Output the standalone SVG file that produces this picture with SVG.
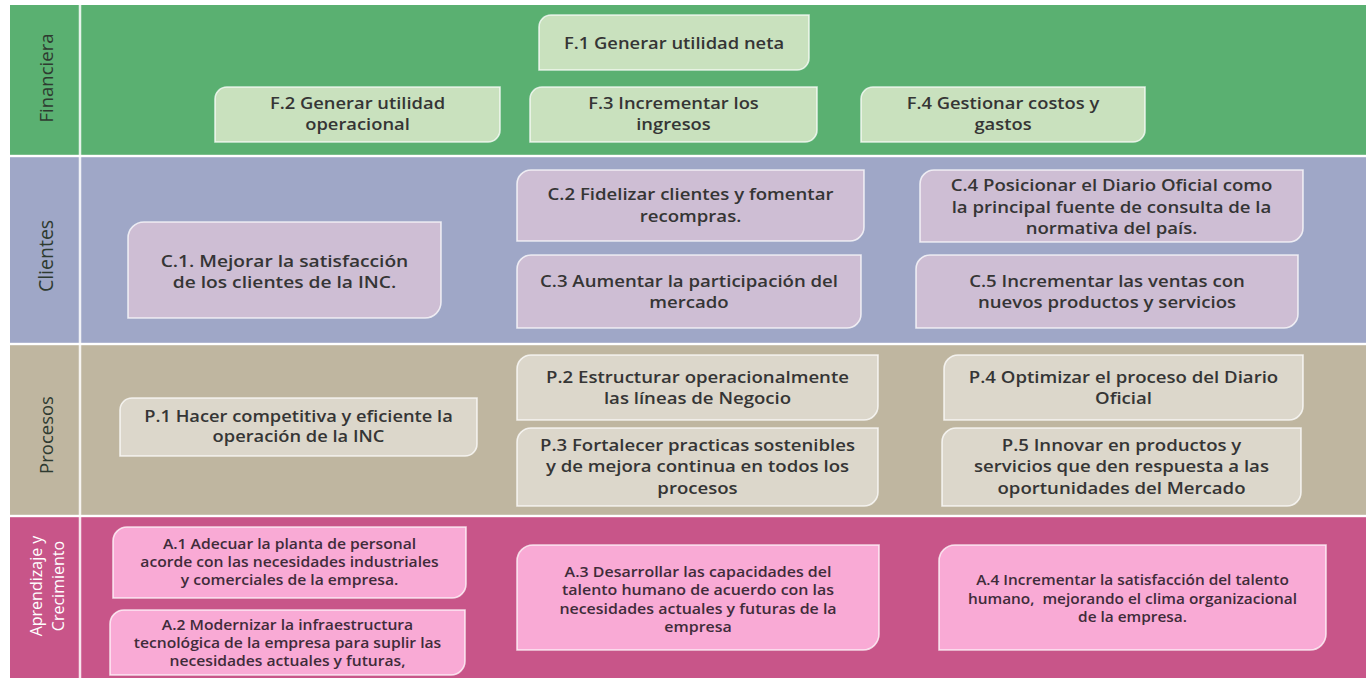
<svg xmlns="http://www.w3.org/2000/svg" width="1370" height="678" viewBox="0 0 1370 678">
<style>
text{font-family:"Open Sans","Noto Sans","DejaVu Sans",sans-serif;fill:#353535;text-anchor:middle;font-weight:600}
.lbl{font-size:18.5px;fill:#2e3a30;font-weight:400}
.lblw{font-size:16px;fill:#ffffff;font-weight:400}
.box{stroke:#ffffff;stroke-opacity:.75;stroke-width:1.6}
.bf{fill:#C9E1BE}
.bc{fill:#CEBED4}
.bp{fill:#DCD7CB}
.ba{fill:#F9AAD5}
.tf{font-size:17px}
.tc{font-size:15.5px}
.tc1{font-size:16px}
.tp{font-size:15.5px}
.ta{font-size:14.5px;fill:#3f2c3a}
.ta2{font-size:14px;fill:#3f2c3a}
</style>
<rect width="1370" height="678" fill="#ffffff"/>
<g id="bands">
<rect x="10" y="5" width="1356" height="150" fill="#5AB071"/>
<rect x="10" y="157" width="1356" height="186" fill="#9FA7C7"/>
<rect x="10" y="345" width="1356" height="170" fill="#BFB6A0"/>
<rect x="10" y="517" width="1356" height="161" fill="#C85589"/>
<line x1="80" y1="5" x2="80" y2="678" stroke="#ffffff" stroke-width="2.5" stroke-opacity=".85"/>
<line x1="10" y1="156" x2="1366" y2="156" stroke="#ffffff" stroke-width="2.5" stroke-opacity=".8"/>
<line x1="10" y1="344" x2="1366" y2="344" stroke="#ffffff" stroke-width="2.5" stroke-opacity=".8"/>
<line x1="10" y1="516" x2="1366" y2="516" stroke="#ffffff" stroke-width="2.5" stroke-opacity=".8"/>
<text class="lbl" transform="translate(53 78) rotate(-90)">Financiera</text>
<text class="lbl" style="font-size:19.5px" transform="translate(53 256) rotate(-90)">Clientes</text>
<text class="lbl" transform="translate(53 435) rotate(-90)">Procesos</text>
<text class="lblw" transform="translate(42 586) rotate(-90)">Aprendizaje y</text>
<text class="lblw" transform="translate(64 586) rotate(-90)">Crecimiento</text>
</g>
<g id="connectors"/>
<g id="F1"><path class="box bf" d="M552 15 H809 V58 A12 12 0 0 1 797 70 H539 V27 A12 12 0 0 1 551 15 Z"/>
<g transform="matrix(1.08 0 0 1 674 0)"><text class="tf" x="0" y="49">F.1 Generar utilidad neta</text></g></g>
<g id="F2"><path class="box bf" d="M227 87 H500 V130 A12 12 0 0 1 488 142 H215 V99 A12 12 0 0 1 227 87 Z"/>
<g transform="matrix(1.08 0 0 1 357.5 0)"><text class="tf" x="0" y="109">F.2 Generar utilidad</text><text class="tf" x="0" y="130">operacional</text></g></g>
<g id="F3"><path class="box bf" d="M542 87 H817 V130 A12 12 0 0 1 805 142 H530 V99 A12 12 0 0 1 542 87 Z"/>
<g transform="matrix(1.08 0 0 1 673.5 0)"><text class="tf" x="0" y="109">F.3 Incrementar los</text><text class="tf" x="0" y="130">ingresos</text></g></g>
<g id="F4"><path class="box bf" d="M873 87 H1145 V130 A12 12 0 0 1 1133 142 H861 V99 A12 12 0 0 1 873 87 Z"/>
<g transform="matrix(1.08 0 0 1 1003 0)"><text class="tf" x="0" y="109">F.4 Gestionar costos y</text><text class="tf" x="0" y="130">gastos</text></g></g>
<g id="C1"><path class="box bc" d="M144 222 H441 V302 A16 16 0 0 1 425 318 H128 V238 A16 16 0 0 1 144 222 Z"/>
<g transform="matrix(1.2 0 0 1 284.5 0)"><text class="tc1" x="0" y="267">C.1. Mejorar la satisfacción</text><text class="tc1" x="0" y="288">de los clientes de la INC.</text></g></g>
<g id="C2"><path class="box bc" d="M531 170 H864 V227 A14 14 0 0 1 850 241 H517 V184 A14 14 0 0 1 531 170 Z"/>
<g transform="matrix(1.2 0 0 1 690.5 0)"><text class="tc" x="0" y="200">C.2 Fidelizar clientes y fomentar</text><text class="tc" x="0" y="222">recompras.</text></g></g>
<g id="C3"><path class="box bc" d="M531 255 H861 V314 A14 14 0 0 1 847 328 H517 V269 A14 14 0 0 1 531 255 Z"/>
<g transform="matrix(1.2 0 0 1 689 0)"><text class="tc" x="0" y="287">C.3 Aumentar la participación del</text><text class="tc" x="0" y="308">mercado</text></g></g>
<g id="C4"><path class="box bc" d="M934 170 H1303 V228 A14 14 0 0 1 1289 242 H920 V184 A14 14 0 0 1 934 170 Z"/>
<g transform="matrix(1.2 0 0 1 1111.5 0)"><text class="tc" x="0" y="191">C.4 Posicionar el Diario Oficial como</text><text class="tc" x="0" y="213">la principal fuente de consulta de la</text><text class="tc" x="0" y="234">normativa del país.</text></g></g>
<g id="C5"><path class="box bc" d="M930 255 H1298 V314 A14 14 0 0 1 1284 328 H916 V269 A14 14 0 0 1 930 255 Z"/>
<g transform="matrix(1.2 0 0 1 1107 0)"><text class="tc" x="0" y="287">C.5 Incrementar las ventas con</text><text class="tc" x="0" y="308">nuevos productos y servicios</text></g></g>
<g id="P1"><path class="box bp" d="M132 398 H477 V444 A12 12 0 0 1 465 456 H120 V410 A12 12 0 0 1 132 398 Z"/>
<g transform="matrix(1.18 0 0 1 298.5 0)"><text class="tp" x="0" y="422">P.1 Hacer competitiva y eficiente la</text><text class="tp" x="0" y="442">operación de la INC</text></g></g>
<g id="P2"><path class="box bp" d="M531 355 H878 V406 A14 14 0 0 1 864 420 H517 V369 A14 14 0 0 1 531 355 Z"/>
<g transform="matrix(1.2 0 0 1 697.5 0)"><text class="tp" x="0" y="383">P.2 Estructurar operacionalmente</text><text class="tp" x="0" y="404">las líneas de Negocio</text></g></g>
<g id="P3"><path class="box bp" d="M531 428 H878 V492 A14 14 0 0 1 864 506 H517 V442 A14 14 0 0 1 531 428 Z"/>
<g transform="matrix(1.2 0 0 1 697.5 0)"><text class="tp" x="0" y="451">P.3 Fortalecer practicas sostenibles</text><text class="tp" x="0" y="472">y de mejora continua en todos los</text><text class="tp" x="0" y="494">procesos</text></g></g>
<g id="P4"><path class="box bp" d="M958 355 H1303 V406 A14 14 0 0 1 1289 420 H944 V369 A14 14 0 0 1 958 355 Z"/>
<g transform="matrix(1.2 0 0 1 1123.5 0)"><text class="tp" x="0" y="383">P.4 Optimizar el proceso del Diario</text><text class="tp" x="0" y="404">Oficial</text></g></g>
<g id="P5"><path class="box bp" d="M956 428 H1301 V492 A14 14 0 0 1 1287 506 H942 V442 A14 14 0 0 1 956 428 Z"/>
<g transform="matrix(1.2 0 0 1 1121.5 0)"><text class="tp" x="0" y="451">P.5 Innovar en productos y</text><text class="tp" x="0" y="472">servicios que den respuesta a las</text><text class="tp" x="0" y="494">oportunidades del Mercado</text></g></g>
<g id="A1"><path class="box ba" d="M127 527 H466 V584 A14 14 0 0 1 452 598 H113 V541 A14 14 0 0 1 127 527 Z"/>
<g transform="matrix(1.08 0 0 1 289.5 0)"><text class="ta" x="0" y="549">A.1 Adecuar la planta de personal</text><text class="ta" x="0" y="567">acorde con las necesidades industriales</text><text class="ta" x="0" y="585">y comerciales de la empresa.</text></g></g>
<g id="A2"><path class="box ba" d="M124 610 H465 V661 A14 14 0 0 1 451 675 H110 V624 A14 14 0 0 1 124 610 Z"/>
<g transform="matrix(1.08 0 0 1 287.5 0)"><text class="ta" x="0" y="630">A.2 Modernizar la infraestructura</text><text class="ta" x="0" y="648">tecnológica de la empresa para suplir las</text><text class="ta" x="0" y="666">necesidades actuales y futuras,</text></g></g>
<g id="A3"><path class="box ba" d="M533 545 H879 V634 A16 16 0 0 1 863 650 H517 V561 A16 16 0 0 1 533 545 Z"/>
<g transform="matrix(1.14 0 0 1 698 0)"><text class="ta2" x="0" y="577">A.3 Desarrollar las capacidades del</text><text class="ta2" x="0" y="595">talento humano de acuerdo con las</text><text class="ta2" x="0" y="614">necesidades actuales y futuras de la</text><text class="ta2" x="0" y="632">empresa</text></g></g>
<g id="A4"><path class="box ba" d="M955 545 H1326 V634 A16 16 0 0 1 1310 650 H939 V561 A16 16 0 0 1 955 545 Z"/>
<g transform="matrix(1.1 0 0 1 1132.5 0)"><text class="ta2" x="0" y="585">A.4 Incrementar la satisfacción del talento</text><text class="ta2" x="0" y="604" xml:space="preserve">humano,  mejorando el clima organizacional</text><text class="ta2" x="0" y="622">de la empresa.</text></g></g>
</svg>
